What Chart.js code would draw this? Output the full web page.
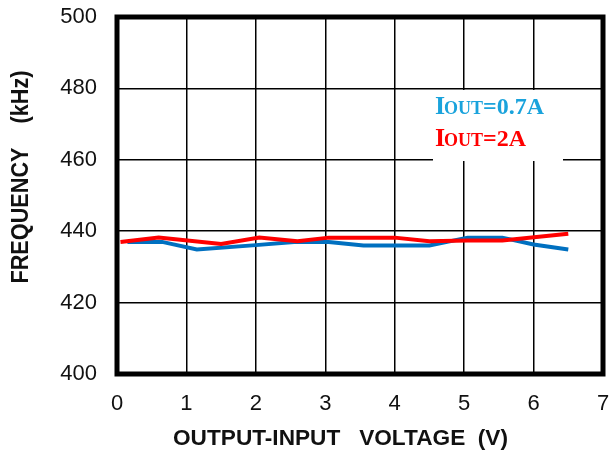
<!DOCTYPE html>
<html>
<head>
<meta charset="utf-8">
<script src="https://cdn.jsdelivr.net/npm/chart.js@4"></script>
<style>
  html, body { margin: 0; padding: 0; background: #fff; }
  #wrap { width: 614px; height: 452px; }
</style>
</head>
<body>
<div id="wrap"><canvas id="chartFreq"></canvas></div>
<script>
// output-input voltage (V) and switching frequency (kHz)
const voltHigh = [0.05, 0.6, 1.5, 2.05, 2.6, 3.05, 4.0, 4.5, 5.05, 5.55, 6.5];
const freqHigh = [437.0, 438.2, 436.4, 438.2, 437.2, 438.2, 438.2, 437.2, 437.4, 437.4, 439.3];

const voltLow = [0.15, 0.65, 1.15, 2.0, 2.55, 3.05, 3.55, 4.5, 5.05, 5.55, 6.0, 6.5];
const freqLow = [437.0, 437.0, 434.9, 436.1, 437.0, 437.0, 436.0, 436.0, 438.2, 438.2, 436.3, 434.9];

const xTicks = [0, 1, 2, 3, 4, 5, 6, 7];
const yTicks = [400, 420, 440, 460, 480, 500];

const xTitle = "OUTPUT-INPUT   VOLTAGE  (V)";
const yTitle = "FREQUENCY    (kHz)";

const legendItems = [
    { main: "=0.7A", color: "#1aa3dc" },
    { main: "=2A", color: "#ff0000" }
];

function toPoints(xs, ys) {
    return xs.map((x, i) => ({ x: x, y: ys[i] }));
}

// draws text squeezed/stretched so it spans a given length
function fitText(ctx, text, cx, cy, len, angle) {
    ctx.save();
    ctx.translate(cx, cy);
    ctx.rotate(angle);
    const w = ctx.measureText(text).width;
    ctx.scale(len / w, 1);
    ctx.textAlign = "center";
    ctx.textBaseline = "middle";
    ctx.fillText(text, 0, 0);
    ctx.restore();
}

// white box with the I_OUT labels, axis titles and the heavy frame
const framePlugin = {
    id: "frame",
    afterDatasetsDraw(chart) {
        const ctx = chart.ctx;
        const a = chart.chartArea;
        ctx.save();
        ctx.fillStyle = "#fff";
        ctx.fillRect(433, 90, 130, 71);
        ctx.textBaseline = "alphabetic";
        legendItems.forEach((item, i) => {
            const base = 114 + i * 32;
            let x = 435;
            ctx.fillStyle = item.color;
            ctx.font = "bold 26px 'Liberation Serif'";
            ctx.fillText("I", x, base);
            x += ctx.measureText("I").width - 1;
            ctx.font = "bold 18px 'Liberation Serif'";
            ctx.fillText("OUT", x, base);
            x += ctx.measureText("OUT").width;
            ctx.font = "bold 24px 'Liberation Serif'";
            ctx.fillText(item.main, x, base);
        });

        ctx.fillStyle = "#111";
        ctx.font = "bold 22px 'Liberation Sans'";
        fitText(ctx, xTitle, 340.5, 439, 335, 0);
        ctx.font = "bold 23px 'Liberation Sans'";
        fitText(ctx, yTitle, 22, 177, 213, -Math.PI / 2);

        ctx.strokeStyle = "#000";
        ctx.lineWidth = 5;
        ctx.strokeRect(a.left, a.top, a.right - a.left, a.bottom - a.top);
        ctx.restore();
    }
};

new Chart(document.getElementById("chartFreq"), {
    type: "line",
    data: {
        datasets: [{
            label: "IOUT=2A",
            data: toPoints(voltHigh, freqHigh),
            borderColor: "#ff0000",
            borderWidth: 4,
            pointRadius: 0,
            tension: 0
        }, {
            label: "IOUT=0.7A",
            data: toPoints(voltLow, freqLow),
            borderColor: "#0070c0",
            borderWidth: 4,
            pointRadius: 0,
            tension: 0
        }]
    },
    options: {
        responsive: true,
        maintainAspectRatio: false,
        animation: false,
        layout: { padding: { top: 17, right: 11, left: 0, bottom: 0 } },
        plugins: {
            legend: { display: false },
            tooltip: { enabled: false }
        },
        scales: {
            x: {
                type: "linear",
                min: 0,
                max: 7,
                afterBuildTicks: (s) => { s.ticks = xTicks.map(v => ({ value: v })); },
                afterFit: (s) => {
                    s.height = 78;
                    s.paddingLeft = 0;
                    s.paddingRight = 0;
                },
                grid: { color: "#000", lineWidth: 1.5, drawTicks: false },
                border: { display: false },
                ticks: {
                    color: "#111",
                    padding: 17,
                    maxRotation: 0,
                    font: { family: "'Liberation Sans'", size: 22 }
                }
            },
            y: {
                min: 400,
                max: 500,
                afterBuildTicks: (s) => { s.ticks = yTicks.map(v => ({ value: v })); },
                afterFit: (s) => {
                    s.width = 117;
                    s.paddingTop = 0;
                    s.paddingBottom = 0;
                },
                grid: { color: "#000", lineWidth: 1.5, drawTicks: false },
                border: { display: false },
                ticks: {
                    color: "#111",
                    padding: 20,
                    font: { family: "'Liberation Sans'", size: 22 }
                }
            }
        }
    },
    plugins: [framePlugin]
});
</script>
</body>
</html>
